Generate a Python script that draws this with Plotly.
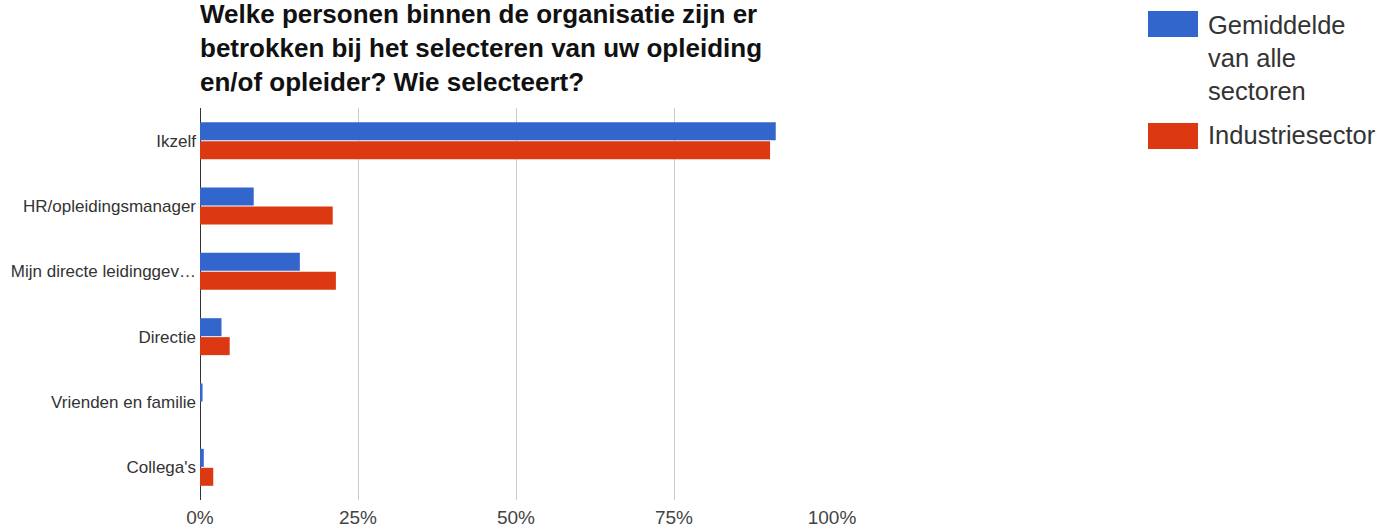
import plotly.graph_objects as go

categories = ["Ikzelf", "HR/opleidingsmanager", "Mijn directe leidinggev…",
              "Directie", "Vrienden en familie", "Collega's"]
gemiddelde = [0.911, 0.085, 0.158, 0.034, 0.004, 0.006]
industrie = [0.902, 0.210, 0.215, 0.047, 0.0, 0.021]

series_names = ["Gemiddelde<br>van alle<br>sectoren", "Industriesector"]
colors = ["#3366cc", "#dc3912"]
tick_vals = [0, 0.25, 0.5, 0.75, 1.0]
tick_text = ["0%", "25%", "50%", "75%", "100%"]

title_text = ("Welke personen binnen de organisatie zijn er<br>"
              "betrokken bij het selecteren van uw opleiding<br>"
              "en/of opleider? Wie selecteert?")

FONT = "Liberation Sans, Arial, sans-serif"

fig = go.Figure()
for vals, color in zip([gemiddelde, industrie], colors):
    fig.add_trace(go.Bar(y=categories, x=vals, orientation="h",
                         marker=dict(color=color, line=dict(width=0)),
                         showlegend=False))

# plot area geometry in pixels
W, H = 1384, 531
L, R, T, B = 200, 552, 108, 31
pw, ph = W - L - R, H - T - B


def px(x):
    return (x - L) / pw


def py(y):
    return (H - B - y) / ph


# legend drawn as colour blocks with labels
legend_rows = [(11, 37, 9), (123, 149, 119)]
for (y0, y1, ty), name, color in zip(legend_rows, series_names, colors):
    fig.add_shape(type="rect", xref="paper", yref="paper",
                  x0=px(1148), x1=px(1198), y0=py(y1), y1=py(y0),
                  fillcolor=color, line=dict(width=0))
    fig.add_annotation(xref="paper", yref="paper", x=px(1206), y=py(ty),
                       xanchor="left", yanchor="top", align="left",
                       text=name, showarrow=False,
                       font=dict(family=FONT, size=25.5, color="#333333"))

fig.add_annotation(xref="paper", yref="paper", x=px(198), y=py(-3),
                   xanchor="left", yanchor="top", align="left",
                   text="<b>" + title_text + "</b>", showarrow=False,
                   font=dict(family=FONT, size=26, color="#111111"))

fig.update_layout(
    width=W, height=H,
    margin=dict(l=L, r=R, t=T, b=B),
    paper_bgcolor="white", plot_bgcolor="white",
    barmode="group", bargap=0.42, bargroupgap=0.05,
    font=dict(family=FONT, color="#333333"),
    xaxis=dict(range=[0, 1], tickvals=tick_vals, ticktext=tick_text,
               showgrid=True, gridcolor="#cccccc", gridwidth=1,
               zeroline=True, zerolinecolor="#333333", zerolinewidth=1,
               showline=False, ticks="", ticklabelstandoff=4,
               automargin=False,
               tickfont=dict(family=FONT, size=19, color="#444444")),
    yaxis=dict(autorange="reversed", showgrid=False, ticks="",
               showline=False, ticklabelstandoff=3, automargin=False,
               tickfont=dict(family=FONT, size=17, color="#333333")),
)

fig.write_html("out.html")
